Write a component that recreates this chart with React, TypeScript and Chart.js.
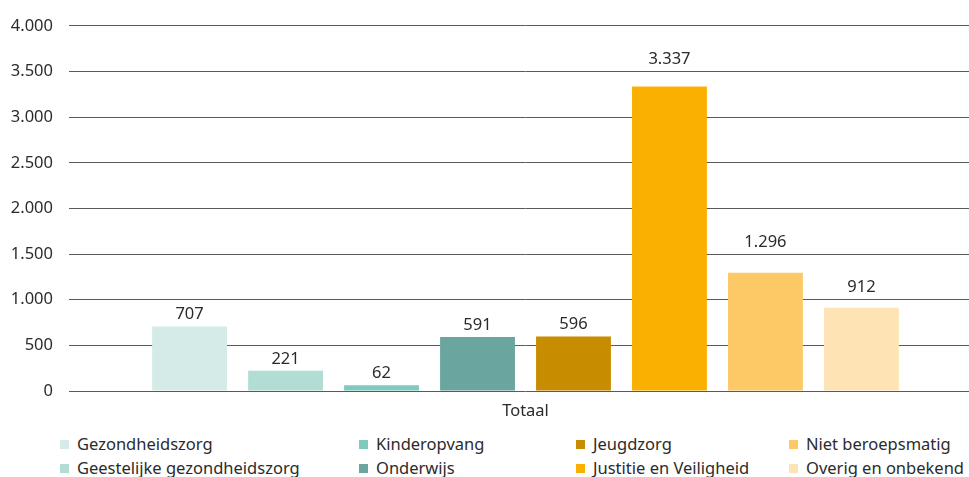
import React, { useEffect, useRef } from "react";
import { Chart, registerables } from "chart.js";

Chart.register(...registerables);

const categories = ["Totaal"];
const seriesNames = [
  "Gezondheidszorg",
  "Geestelijke gezondheidszorg",
  "Kinderopvang",
  "Onderwijs",
  "Jeugdzorg",
  "Justitie en Veiligheid",
  "Niet beroepsmatig",
  "Overig en onbekend",
];
const seriesValues = [707, 221, 62, 591, 596, 3337, 1296, 912];
const seriesColors = [
  "#d4ebe7",
  "#b2ddd4",
  "#7ecabf",
  "#6aa69f",
  "#c88c00",
  "#f9b000",
  "#fdc866",
  "#fee4b4",
];
const yTicks = [0, 500, 1000, 1500, 2000, 2500, 3000, 3500, 4000];
const legendColumns = [
  [0, 1],
  [2, 3],
  [4, 5],
  [6, 7],
];

const FONT_FAMILY = '"Noto Sans", sans-serif';
const FONT_SIZE = 16.5;
const TEXT_COLOR = "#2b2b2b";

function fmt(n: number): string {
  return String(n).replace(/\B(?=(\d{3})+(?!\d))/g, ".");
}

// Value labels above bars; a label that would collide with a grid line is lifted above it.
const barLabelPlugin = {
  id: "barLabels",
  afterDatasetsDraw(chart: any) {
    const ctx = chart.ctx;
    const yScale = chart.scales.y;
    const linePixels = yTicks.map((v) => yScale.getPixelForValue(v));
    ctx.save();
    ctx.font = `${FONT_SIZE}px ${FONT_FAMILY}`;
    ctx.fillStyle = TEXT_COLOR;
    ctx.textAlign = "center";
    ctx.textBaseline = "middle";
    chart.data.datasets.forEach((ds: any, i: number) => {
      const meta = chart.getDatasetMeta(i);
      meta.data.forEach((el: any, j: number) => {
        let cy = el.y - 12;
        for (const lp of linePixels) {
          if (Math.abs(cy - lp) < 10) {
            cy = lp - 12;
            break;
          }
        }
        ctx.fillText(fmt(ds.data[j]), el.x, cy);
      });
    });
    ctx.restore();
  },
};

export default function App() {
  const canvasRef = useRef<HTMLCanvasElement | null>(null);

  useEffect(() => {
    if (!canvasRef.current) return;
    const chart = new Chart(canvasRef.current, {
      type: "bar",
      data: {
        labels: categories,
        datasets: seriesNames.map((name, i) => ({
          label: name,
          data: [seriesValues[i]],
          backgroundColor: seriesColors[i],
          borderWidth: 0,
          categoryPercentage: 0.841,
          barPercentage: 0.78,
        })),
      },
      options: {
        animation: false,
        responsive: false,
        maintainAspectRatio: false,
        layout: { padding: { top: 25, left: 0, right: 0, bottom: 0 } },
        plugins: {
          legend: { display: false },
          tooltip: { enabled: false },
        },
        scales: {
          x: {
            grid: { display: false, drawTicks: false },
            border: { display: false },
            ticks: {
              color: TEXT_COLOR,
              font: { family: FONT_FAMILY, size: FONT_SIZE },
              padding: 10,
            },
            afterFit: (s: any) => {
              s.height = 29;
            },
          },
          y: {
            min: 0,
            max: 4000,
            afterBuildTicks: (s: any) => {
              s.ticks = yTicks.map((v) => ({ value: v }));
            },
            ticks: {
              color: TEXT_COLOR,
              font: { family: FONT_FAMILY, size: FONT_SIZE },
              padding: 16,
              callback: (v: any) => fmt(Number(v)),
            },
            grid: { color: "#5a5a5a", lineWidth: 1, drawTicks: false },
            border: { display: false },
            afterFit: (s: any) => {
              s.width = 69;
            },
          },
        },
      },
      plugins: [barLabelPlugin],
    });
    return () => chart.destroy();
  }, []);

  const colLeft = [60, 359, 576, 789];

  return (
    <div
      style={{
        position: "absolute",
        left: 0,
        top: 0,
        width: 969,
        height: 477,
        overflow: "hidden",
        background: "#ffffff",
        fontFamily: FONT_FAMILY,
      }}
    >
      <canvas
        ref={canvasRef}
        width={982}
        height={420}
        style={{ position: "absolute", left: 0, top: 0, width: 982, height: 420 }}
      />
      {legendColumns.map((col, ci) =>
        col.map((idx, ri) => (
          <div
            key={idx}
            style={{
              position: "absolute",
              left: colLeft[ci],
              top: 432 + ri * 24,
              height: 24,
              lineHeight: "24px",
              display: "flex",
              alignItems: "center",
              whiteSpace: "nowrap",
              fontSize: FONT_SIZE,
              color: TEXT_COLOR,
            }}
          >
            <span
              style={{
                display: "inline-block",
                width: 9,
                height: 9,
                background: seriesColors[idx],
                marginRight: 8,
              }}
            />
            <span>{seriesNames[idx]}</span>
          </div>
        ))
      )}
    </div>
  );
}
